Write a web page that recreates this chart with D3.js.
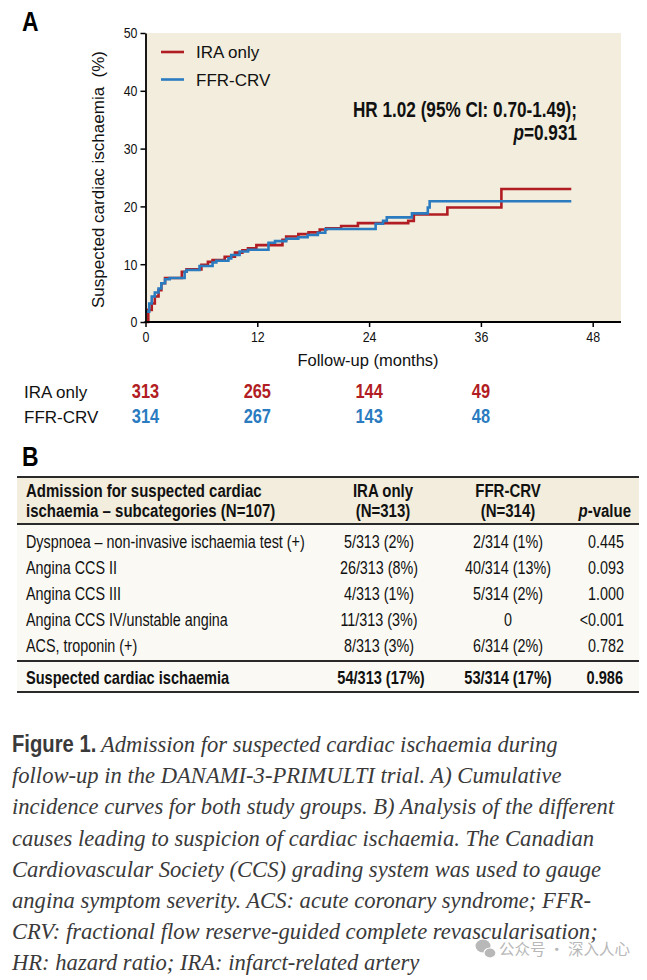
<!DOCTYPE html>
<html>
<head>
<meta charset="utf-8">
<script src="https://cdn.jsdelivr.net/npm/d3@7"></script>
<style>
  body { margin: 0; background: #fff; }
  svg { display: block; }
  text { font-family: "Liberation Sans", Arial, sans-serif; }
</style>
</head>
<body>
<svg id="fig" width="647" height="980"></svg>
<script>
// Cumulative incidence steps (months, %)
const iraMonths = [0, 0.3, 0.67, 1.0, 1.4, 1.7, 2.1, 3.9, 4.4, 6.0, 6.7, 7.2, 8.5, 9.6, 10.4, 11.0, 11.9, 14.7, 15.1, 16.4, 17.5, 18.7, 19.4, 21.0, 22.8, 28.2, 28.8, 32.4, 38.2, 45.7];
const iraPct    = [0, 2.1, 3.2, 4.4, 5.5, 6.7, 7.6, 8.7, 9.1, 9.9, 10.4, 10.7, 11.3, 12.0, 12.4, 12.75, 13.3, 14.2, 14.8, 15.2, 15.5, 16.0, 16.2, 16.6, 17.1, 17.5, 18.6, 19.8, 23.0, 23.0];
const ffrMonths = [0, 0.4, 0.67, 1.0, 1.4, 1.7, 2.1, 2.6, 4.2, 4.4, 5.8, 7.2, 7.6, 8.9, 9.2, 10.1, 11.0, 13.2, 13.9, 15.1, 16.4, 17.4, 18.5, 19.3, 24.7, 25.5, 25.9, 28.6, 30.3, 30.5, 45.7];
const ffrPct    = [1.8, 3.2, 4.4, 5.1, 5.8, 6.7, 7.4, 7.6, 8.7, 9.0, 9.7, 10.3, 10.6, 11.0, 11.6, 12.2, 12.5, 13.7, 14.0, 14.4, 14.65, 15.05, 15.45, 16.1, 17.0, 17.5, 18.1, 18.8, 19.8, 20.9, 20.9];

const xTicks = [0, 12, 24, 36, 48];
const yTicks = [0, 10, 20, 30, 40, 50];

// Numbers at risk
const riskMonths = [0, 12, 24, 36];
const iraAtRisk = [313, 265, 144, 49];
const ffrAtRisk = [314, 267, 143, 48];

// Table B
const rowLabels = ["Dyspnoea \u2013 non-invasive ischaemia test (+)", "Angina CCS II", "Angina CCS III", "Angina CCS IV/unstable angina", "ACS, troponin (+)"];
const iraCol = ["5/313 (2%)", "26/313 (8%)", "4/313 (1%)", "11/313 (3%)", "8/313 (3%)"];
const ffrCol = ["2/314 (1%)", "40/314 (13%)", "5/314 (2%)", "0", "6/314 (2%)"];
const pCol = ["0.445", "0.093", "1.000", "<0.001", "0.782"];
const totalRow = ["Suspected cardiac ischaemia", "54/313 (17%)", "53/314 (17%)", "0.986"];

const captionLines = [
  "Admission for suspected cardiac ischaemia during",
  "follow-up in the DANAMI-3-PRIMULTI trial. A) Cumulative",
  "incidence curves for both study groups. B) Analysis of the different",
  "causes leading to suspicion of cardiac ischaemia. The Canadian",
  "Cardiovascular Society (CCS) grading system was used to gauge",
  "angina symptom severity. ACS: acute coronary syndrome; FFR-",
  "CRV: fractional flow reserve-guided complete revascularisation;",
  "HR: hazard ratio; IRA: infarct-related artery"
];

const RED = "#b11d23", BLUE = "#2a7bbf";
const svg = d3.select("#fig");

// condensed-looking text: no narrow font installed, so squeeze horizontally
function ntext(parent, x, y, str, size, o = {}) {
  return parent.append("text")
    .attr("transform", `translate(${x},${y}) scale(${o.sx || 0.8},1)`)
    .attr("font-size", size)
    .attr("font-weight", o.bold ? "bold" : null)
    .attr("text-anchor", o.anchor || "start")
    .attr("fill", o.fill || "#111")
    .text(str);
}

// ---------- Panel A ----------
const x = d3.scaleLinear().domain([0, 48]).range([145.5, 592.7]);
const y = d3.scaleLinear().domain([0, 50]).range([322, 33]);

ntext(svg, 22, 31, "A", 27, {bold: true, sx: 0.85, fill: "#000"});

svg.append("rect")
  .attr("x", x(0)).attr("y", y(50))
  .attr("width", 621 - x(0)).attr("height", y(0) - y(50))
  .attr("fill", "#f2eddc");

const line = d3.line().x(d => x(d[0])).y(d => y(d[1])).curve(d3.curveStepAfter);
const iraData = iraMonths.map((m, i) => [m, iraPct[i]]);
const ffrData = ffrMonths.map((m, i) => [m, ffrPct[i]]);

svg.append("path").datum(iraData).attr("d", line)
  .attr("fill", "none").attr("stroke", RED).attr("stroke-width", 2.6);
svg.append("path").datum(ffrData).attr("d", line)
  .attr("fill", "none").attr("stroke", BLUE).attr("stroke-width", 2.6);

// axes
const yAxis = svg.append("g")
  .attr("transform", `translate(${x(0)},0)`)
  .call(d3.axisLeft(y).tickValues(yTicks).tickSize(5).tickSizeOuter(0).tickPadding(3));
yAxis.select(".domain").attr("stroke-width", 1.8);
yAxis.selectAll(".tick line").attr("stroke-width", 1.5);
yAxis.selectAll("text").attr("font-size", 15.5).attr("fill", "#111")
  .attr("x", -10).attr("transform", "scale(0.8,1)");

const xAxis = svg.append("g")
  .attr("transform", `translate(0,${y(0)})`)
  .call(d3.axisBottom(x).tickValues(xTicks).tickSize(5).tickSizeOuter(0).tickPadding(4));
xAxis.select(".domain").remove();
xAxis.selectAll(".tick line").attr("stroke-width", 1.5);
xAxis.selectAll("text").attr("font-size", 15.5).attr("fill", "#111").attr("transform", "scale(0.8,1)");
svg.append("line").attr("x1", x(0) - 1).attr("x2", 621).attr("y1", y(0)).attr("y2", y(0))
  .attr("stroke", "#000").attr("stroke-width", 1.8);

// axis titles
svg.append("text")
  .attr("transform", `translate(104,${(y(0) + y(50)) / 2 + 2}) rotate(-90)`)
  .attr("text-anchor", "middle").attr("font-size", 17).attr("fill", "#111")
  .attr("xml:space", "preserve")
  .text("Suspected cardiac ischaemia  (%)");
svg.append("text")
  .attr("x", 368).attr("y", 366).attr("text-anchor", "middle")
  .attr("font-size", 16.5).attr("fill", "#111").text("Follow-up (months)");

// legend
const legend = [["IRA only", RED], ["FFR-CRV", BLUE]];
legend.forEach((d, i) => {
  const ly = 52 + i * 27.5;
  svg.append("line").attr("x1", 161).attr("x2", 184).attr("y1", ly).attr("y2", ly)
    .attr("stroke", d[1]).attr("stroke-width", 2.6);
  svg.append("text").attr("x", 196).attr("y", ly + 6)
    .attr("font-size", 17).attr("fill", "#111").text(d[0]);
});

// HR annotation
ntext(svg, 577, 117, "HR 1.02 (95% CI: 0.70-1.49);", 22, {bold: true, anchor: "end", sx: 0.78});
const pLine = ntext(svg, 577, 140, "", 22, {bold: true, anchor: "end", sx: 0.78});
pLine.append("tspan").attr("font-style", "italic").text("p");
pLine.append("tspan").text("=0.931");

// numbers at risk
[["IRA only", iraAtRisk, RED, 398], ["FFR-CRV", ffrAtRisk, BLUE, 423]].forEach(r => {
  svg.append("text").attr("x", 24).attr("y", r[3])
    .attr("font-size", 17).attr("fill", "#111").text(r[0]);
  riskMonths.forEach((m, i) => {
    ntext(svg, x(m), r[3], r[1][i], 20, {bold: true, anchor: "middle", fill: r[2], sx: 0.82});
  });
});

// ---------- Panel B ----------
ntext(svg, 22, 466, "B", 27, {bold: true, sx: 0.85, fill: "#000"});

const tL = 17, tR = 639;
const rowY = d3.scaleLinear().domain([0, 1]).range([548, 574]);
svg.append("rect").attr("x", tL).attr("y", 477).attr("width", tR - tL).attr("height", 215)
  .attr("fill", "#faf9f3");
svg.append("rect").attr("x", tL).attr("y", 477).attr("width", tR - tL).attr("height", 47)
  .attr("fill", "#f2eddc");
[[477, 2], [524, 2], [661, 1.8], [692, 2]].forEach(l => {
  svg.append("line").attr("x1", tL).attr("x2", tR).attr("y1", l[0]).attr("y2", l[0])
    .attr("stroke", "#2a2a2a").attr("stroke-width", l[1]);
});

const hs = 18.5, hsx = 0.81;
ntext(svg, 26, 497, "Admission for suspected cardiac", hs, {bold: true, sx: hsx});
ntext(svg, 26, 517, "ischaemia \u2013 subcategories (N=107)", hs, {bold: true, sx: hsx});
ntext(svg, 383, 497, "IRA only", hs, {bold: true, sx: hsx, anchor: "middle"});
ntext(svg, 383, 517, "(N=313)", hs, {bold: true, sx: hsx, anchor: "middle"});
ntext(svg, 508, 497, "FFR-CRV", hs, {bold: true, sx: hsx, anchor: "middle"});
ntext(svg, 508, 517, "(N=314)", hs, {bold: true, sx: hsx, anchor: "middle"});
const pv = ntext(svg, 631, 517, "", hs, {bold: true, sx: hsx, anchor: "end"});
pv.append("tspan").attr("font-style", "italic").text("p");
pv.append("tspan").text("-value");

const bs = 17.5, bsx = 0.82;
rowLabels.forEach((lab, i) => {
  const yy = rowY(i);
  ntext(svg, 26, yy, lab, bs, {sx: bsx});
  ntext(svg, 379, yy, iraCol[i], bs, {sx: bsx, anchor: "middle"});
  ntext(svg, 508, yy, ffrCol[i], bs, {sx: bsx, anchor: "middle"});
  ntext(svg, 624, yy, pCol[i], bs, {sx: bsx, anchor: "end"});
});
ntext(svg, 26, 684, totalRow[0], 18, {bold: true, sx: hsx});
ntext(svg, 381, 684, totalRow[1], 18, {bold: true, sx: hsx, anchor: "middle"});
ntext(svg, 508, 684, totalRow[2], 18, {bold: true, sx: hsx, anchor: "middle"});
ntext(svg, 623, 684, totalRow[3], 18, {bold: true, sx: hsx, anchor: "end"});

// ---------- Caption ----------
const cap = svg.append("g");
ntext(cap, 12, 752, "Figure 1.", 23, {bold: true, sx: 0.88, fill: "#3a3a3a"});
captionLines.forEach((txt, i) => {
  cap.append("text").attr("x", i === 0 ? 101 : 12).attr("y", 752 + i * 31.2)
    .style("font-family", "'Liberation Serif', 'Times New Roman', serif")
    .style("font-style", "italic").attr("font-size", 22.6).attr("fill", "#3a3a3a")
    .text(txt);
});

// watermark
const wm = svg.append("g").attr("fill", "#b8b8b8");
wm.append("ellipse").attr("cx", 483).attr("cy", 946).attr("rx", 7.5).attr("ry", 6.5);
wm.append("ellipse").attr("cx", 490).attr("cy", 953).attr("rx", 6).attr("ry", 5)
  .attr("stroke", "#fff").attr("stroke-width", 1.2);
wm.append("text").attr("x", 499).attr("y", 955)
  .style("font-family", "'Noto Sans CJK SC', sans-serif").attr("font-size", 15.5)
  .text("公众号 · 深入人心");
</script>
</body>
</html>
